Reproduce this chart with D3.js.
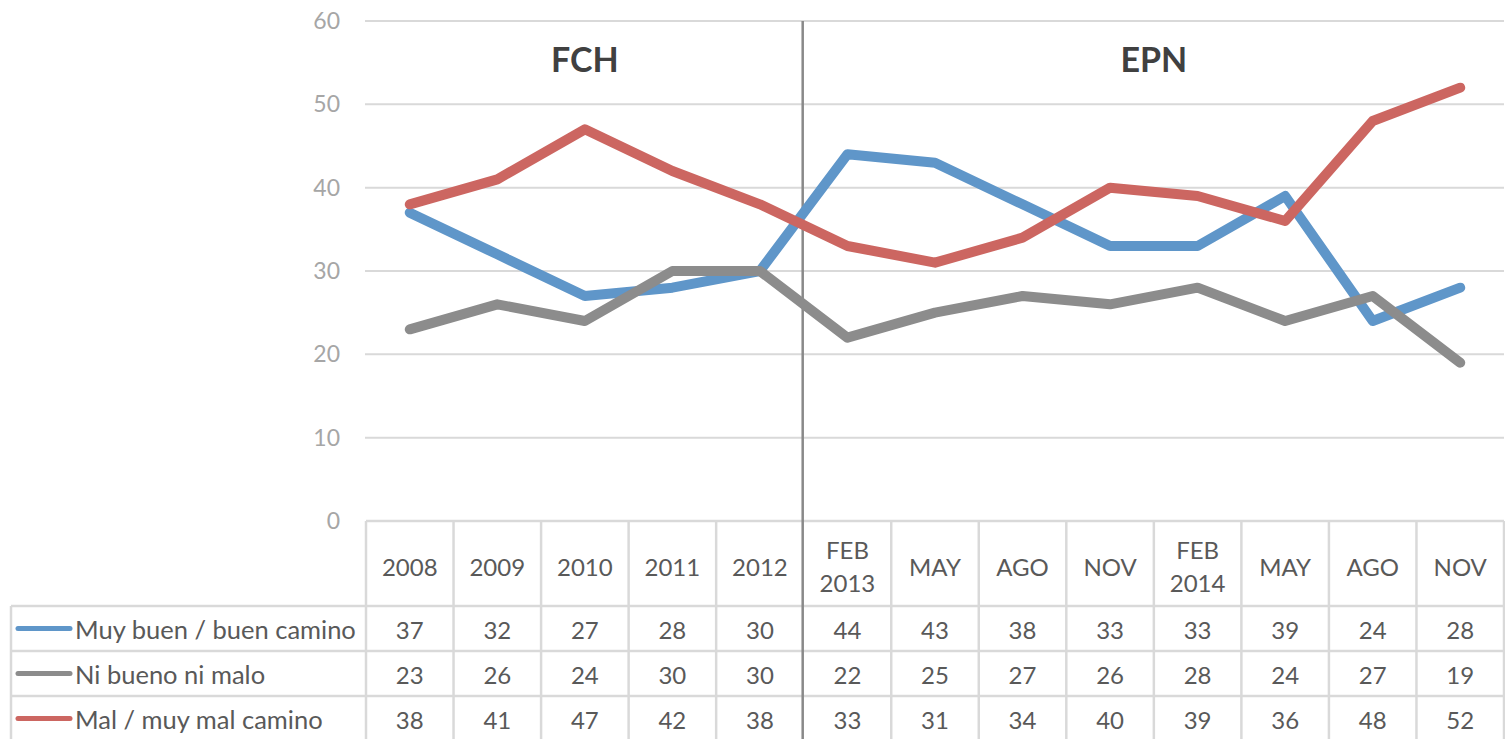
<!DOCTYPE html>
<html>
<meta charset="utf-8">
<style>
    body {
        margin: 0;
        background: #fff;
    }
    svg {
        display: block;
        font-family: Lato, "Open Sans", sans-serif;
    }
    .grid line {
        stroke: #d9d9d9;
        stroke-width: 2;
    }
    .tick-label {
        fill: #a6a6a6;
        font-size: 23px;
    }
    .cell {
        fill: #595959;
        font-size: 24px;
    }
    .legend-label {
        fill: #595959;
        font-size: 25.5px;
    }
    .border {
        stroke: #d9d9d9;
        stroke-width: 2.5;
    }
    .series {
        fill: none;
        stroke-width: 10;
        stroke-linecap: round;
        stroke-linejoin: round;
    }
</style>
<body>
<script src="https://cdn.jsdelivr.net/npm/d3@7"></script>
<script>
    // columns of the chart / table
    var categories = ["2008", "2009", "2010", "2011", "2012", "FEB|2013", "MAY", "AGO", "NOV", "FEB|2014", "MAY", "AGO", "NOV"];

    var seriesNames = ["Muy buen / buen camino", "Ni bueno ni malo", "Mal / muy mal camino"];
    var muyBuen = [37, 32, 27, 28, 30, 44, 43, 38, 33, 33, 39, 24, 28];
    var niBueno = [23, 26, 24, 30, 30, 22, 25, 27, 26, 28, 24, 27, 19];
    var malCamino = [38, 41, 47, 42, 38, 33, 31, 34, 40, 39, 36, 48, 52];
    var seriesColors = ["#5f96c9", "#8c8c8c", "#cc6661"];

    var yTicks = [0, 10, 20, 30, 40, 50, 60];

    // periods shown as titles, split by the vertical line
    var periodLabels = ["FCH", "EPN"];
    var periodFirst = [0, 5];
    var periodLast = [4, 12];

    var W = 1505, H = 739;
    var plotLeft = 366, plotRight = 1504, plotTop = 21, plotBottom = 521;
    var tableLeft = 11, headerBottom = 606, rowH = 45;

    var svg = d3.select("body").append("svg")
        .attr("width", W)
        .attr("height", H);

    var x = d3.scaleBand()
        .domain(d3.range(categories.length))
        .range([plotLeft, plotRight]);

    var y = d3.scaleLinear()
        .domain([0, 60])
        .range([plotBottom, plotTop]);

    // gridlines
    svg.append("g").attr("class", "grid")
        .selectAll("line")
        .data(yTicks.filter(function (d) { return d > 0; }))
        .enter().append("line")
        .attr("x1", plotLeft - 1)
        .attr("x2", plotRight)
        .attr("y1", function (d) { return y(d); })
        .attr("y2", function (d) { return y(d); });

    // y axis labels
    svg.append("g")
        .selectAll("text")
        .data(yTicks)
        .enter().append("text")
        .attr("class", "tick-label")
        .attr("x", 340)
        .attr("y", function (d) { return y(d); })
        .attr("dy", "0.35em")
        .attr("text-anchor", "end")
        .text(function (d) { return d; });

    // ---- data table ----
    var rows = [muyBuen, niBueno, malCamino];
    var table = svg.append("g");
    var tableBottom = headerBottom + rowH * rows.length;

    // horizontal borders
    table.append("line").attr("class", "border")
        .attr("x1", plotLeft).attr("x2", plotRight)
        .attr("y1", plotBottom).attr("y2", plotBottom);
    d3.range(rows.length + 1).forEach(function (i) {
        table.append("line").attr("class", "border")
            .attr("x1", tableLeft).attr("x2", plotRight)
            .attr("y1", headerBottom + i * rowH).attr("y2", headerBottom + i * rowH);
    });
    // vertical borders
    table.append("line").attr("class", "border")
        .attr("x1", tableLeft).attr("x2", tableLeft)
        .attr("y1", headerBottom).attr("y2", tableBottom);
    d3.range(categories.length + 1).forEach(function (i) {
        if (i === periodFirst[1]) return;
        var xx = i < categories.length ? x(i) : plotRight;
        table.append("line").attr("class", "border")
            .attr("x1", xx).attr("x2", xx)
            .attr("y1", plotBottom).attr("y2", tableBottom);
    });

    // header labels
    categories.forEach(function (c, i) {
        var parts = c.split("|");
        var t = table.append("text")
            .attr("class", "cell")
            .attr("text-anchor", "middle")
            .attr("x", x(i) + x.bandwidth() / 2);
        if (parts.length === 1) {
            t.attr("y", 568).attr("dy", "0.35em").text(c);
        } else {
            t.append("tspan").attr("x", x(i) + x.bandwidth() / 2).attr("y", 551).attr("dy", "0.35em").text(parts[0]);
            t.append("tspan").attr("x", x(i) + x.bandwidth() / 2).attr("y", 584).attr("dy", "0.35em").text(parts[1]);
        }
    });

    // value rows + legend keys
    rows.forEach(function (vals, r) {
        var cy = headerBottom + r * rowH + rowH / 2 + 2;
        table.append("line")
            .attr("x1", 18).attr("x2", 70)
            .attr("y1", cy - 2).attr("y2", cy - 2)
            .attr("stroke", seriesColors[r])
            .attr("stroke-width", 5)
            .attr("stroke-linecap", "round");
        table.append("text")
            .attr("class", "legend-label")
            .attr("x", 75)
            .attr("y", cy)
            .attr("dy", "0.35em")
            .text(seriesNames[r]);
        table.selectAll(null)
            .data(vals)
            .enter().append("text")
            .attr("class", "cell")
            .attr("text-anchor", "middle")
            .attr("x", function (d, i) { return x(i) + x.bandwidth() / 2; })
            .attr("y", cy)
            .attr("dy", "0.35em")
            .text(function (d) { return d; });
    });

    // divider between periods
    svg.append("line")
        .attr("x1", x(periodFirst[1]) - 1).attr("x2", x(periodFirst[1]) - 1)
        .attr("y1", plotTop).attr("y2", H)
        .attr("stroke", "#898989")
        .attr("stroke-width", 2.5);

    // period titles
    periodLabels.forEach(function (p, i) {
        var x0 = x(periodFirst[i]), x1 = x(periodLast[i]) + x.bandwidth();
        svg.append("text")
            .attr("x", (x0 + x1) / 2)
            .attr("y", 60)
            .attr("dy", "0.35em")
            .attr("text-anchor", "middle")
            .attr("font-size", 34)
            .attr("font-weight", "bold")
            .attr("fill", "#404040")
            .text(p);
    });

    // series lines
    var line = d3.line()
        .x(function (d, i) { return x(i) + x.bandwidth() / 2; })
        .y(function (d) { return y(d); });

    svg.append("g")
        .selectAll("path")
        .data(rows)
        .enter().append("path")
        .attr("class", "series")
        .attr("stroke", function (d, i) { return seriesColors[i]; })
        .attr("d", line);
</script>
</body>
</html>
